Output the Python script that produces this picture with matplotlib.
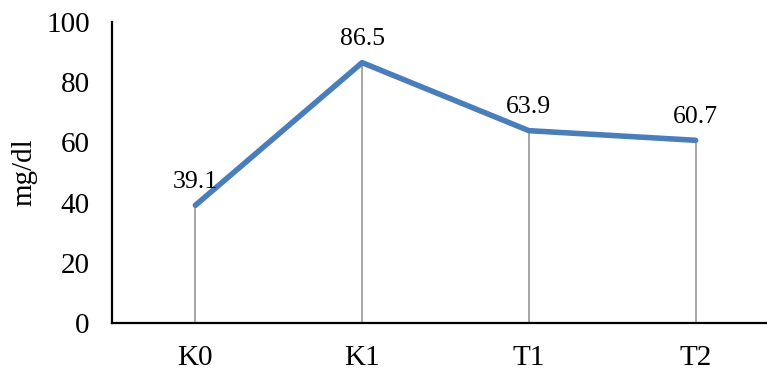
import matplotlib
matplotlib.use("Agg")
import matplotlib.pyplot as plt

categories = ["K0", "K1", "T1", "T2"]
values = [39.1, 86.5, 63.9, 60.7]
y_ticks = [0, 20, 40, 60, 80, 100]
y_label = "mg/dl"

plt.rcParams["font.family"] = ["Liberation Serif", "DejaVu Serif"]

fig = plt.figure(figsize=(7.67, 3.71), dpi=100)
W, H = 767, 371
left, right, top, bottom = 112, 779, 22, 323
ax = fig.add_axes([left / W, 1 - bottom / H, (right - left) / W, (bottom - top) / H])

x = list(range(len(categories)))

# drop lines from each point to the axis
ax.vlines(x, 0, values, color="#a6a6a6", linewidth=1.4, zorder=1)
ax.plot(x, values, color="#4a7ebb", linewidth=4.0, solid_capstyle="round",
        solid_joinstyle="round", zorder=2)

for xi, v in zip(x, values):
    ax.annotate(f"{v:.1f}", (xi, v), xytext=(0, 9), textcoords="offset points",
                ha="center", va="bottom", fontsize=18.5, color="black")

ax.set_xlim(-0.5, len(categories) - 0.5)
ax.set_ylim(0, 100)
ax.set_yticks(y_ticks)
ax.set_xticks(x)
ax.set_xticklabels(categories)
ax.tick_params(axis="both", length=0, labelsize=21, pad=16)
ax.set_ylabel(y_label, fontsize=21, va="center")
ax.yaxis.set_label_coords((24 - left) / (right - left), 0.5)

for s in ["top", "right"]:
    ax.spines[s].set_visible(False)
for s in ["left", "bottom"]:
    ax.spines[s].set_linewidth(1.6)
    ax.spines[s].set_color("black")

fig.savefig("out.png", dpi=100)
